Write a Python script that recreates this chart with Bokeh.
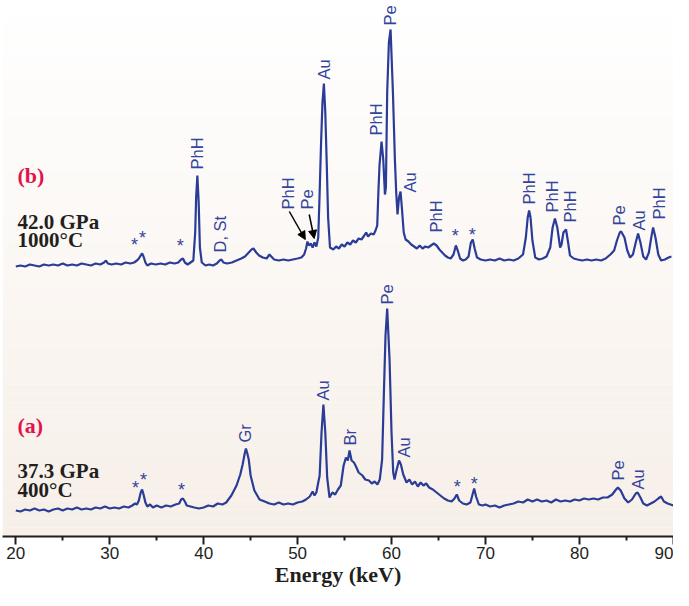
import numpy as np
from bokeh.plotting import figure
from bokeh.models import FixedTicker, Label, Arrow, NormalHead
from bokeh.core.properties import value
from bokeh.embed import file_html
from bokeh.resources import INLINE

# ---------------- data ----------------
energy_a = [20.0, 20.5, 21.0, 21.5, 22.0, 22.5, 23.0, 23.5, 24.0, 24.5, 25.0, 25.5, 26.0, 26.5, 27.0,
            27.5, 28.0, 28.5, 29.0, 29.5, 30.0, 30.5, 31.0, 31.5, 32.0, 32.4, 32.7, 32.9, 33.1, 33.3,
            33.45, 33.6, 33.8, 34.0, 34.3, 34.6, 35.0, 35.5, 36.0, 36.5, 37.0, 37.4, 37.6, 37.8, 38.0,
            38.2, 38.6, 39.0, 39.5, 40.0, 40.5, 41.0, 41.5, 42.0, 42.4, 42.95, 43.5, 43.9, 44.15, 44.35,
            44.5, 44.65, 44.8, 45.0, 45.4, 45.95, 46.5, 47.0, 47.5, 48.0, 48.5, 49.0, 49.5, 50.0, 50.5,
            50.9, 51.3, 51.6, 51.8, 52.0, 52.2, 52.35, 52.55, 52.75, 52.95, 53.15, 53.4, 53.7, 54.0, 54.3,
            54.6, 54.9, 55.15, 55.35, 55.53, 55.75, 56.0, 56.17, 56.5, 56.9, 57.2, 57.6, 57.9, 58.2, 58.5,
            58.75, 59.0, 59.19, 59.36, 59.54, 59.79, 60.0, 60.18, 60.32, 60.5, 60.8, 61.0, 61.25, 61.6, 61.9,
            62.2, 62.5, 62.8, 63.1, 63.4, 63.7, 64.0, 64.4, 64.8, 65.2, 65.6, 66.0, 66.4, 66.7, 66.95,
            67.2, 67.6, 68.0, 68.4, 68.6, 68.8, 69.0, 69.3, 69.7, 70.0, 70.5, 71.0, 71.5, 72.0, 72.5,
            73.0, 73.5, 74.0, 74.5, 75.0, 75.5, 76.0, 76.5, 77.0, 77.5, 78.0, 78.5, 79.0, 79.5, 80.0,
            80.5, 81.0, 81.5, 82.0, 82.5, 83.0, 83.5, 83.9, 84.1, 84.4, 84.8, 85.2, 85.6, 86.0, 86.2,
            86.5, 86.8, 87.2, 87.6, 88.0, 88.4, 88.7, 89.0, 89.4, 89.7, 90.0]
counts_a = [0, -1, 1, 0, 2, 0, 1, -1, 1, 2, 0, 2, 1, 3, 1,
            2, 1, 3, 2, 4, 2, 3, 2, 4, 3, 5, 7, 6, 10, 18,
            21, 16, 8, 4, 6, 3, 5, 3, 5, 4, 6, 7, 11, 12, 9,
            5, 4, 3, 2, 3, 5, 4, 7, 6, 8, 15, 25, 36, 46, 56,
            62, 57, 51, 35, 20, 11, 9, 7, 6, 8, 6, 7, 6, 8, 9,
            11, 14, 19, 15, 18, 28, 35, 78, 106, 78, 33, 13, 18, 16, 21,
            25, 45, 53, 50, 60, 50, 48, 45, 38, 35, 31, 30, 27, 29, 26,
            31, 51, 118, 175, 202, 151, 78, 38, 31, 39, 50, 46, 36, 28, 31,
            26, 29, 24, 28, 25, 27, 23, 21, 18, 15, 12, 10, 9, 12, 16,
            10, 7, 6, 8, 15, 22, 14, 6, 5, 6, 4, 5, 3, 5, 6,
            7, 9, 8, 11, 9, 11, 9, 10, 8, 11, 9, 10, 9, 11, 10,
            12, 11, 12, 11, 13, 13, 16, 21, 23, 20, 12, 8, 11, 17, 18,
            13, 7, 5, 7, 9, 12, 14, 9, 7, 6, 5]

energy_b = [20.0, 20.5, 21.0, 21.5, 22.0, 22.5, 23.0, 23.5, 24.0, 24.5, 25.0, 25.5, 26.0, 26.5, 27.0,
            27.5, 28.0, 28.5, 29.0, 29.4, 29.6, 29.8, 30.2, 30.7, 31.2, 31.7, 32.2, 32.6, 32.9, 33.1,
            33.3, 33.45, 33.6, 33.8, 34.0, 34.4, 34.9, 35.4, 35.9, 36.4, 36.9, 37.3, 37.6, 37.8, 38.0,
            38.3, 38.6, 38.9, 39.1, 39.2, 39.33, 39.47, 39.6, 39.8, 40.2, 40.6, 41.0, 41.4, 41.7, 41.9,
            42.1, 42.5, 43.0, 43.5, 44.0, 44.4, 44.8, 45.1, 45.3, 45.6, 45.9, 46.3, 46.7, 47.0, 47.2,
            47.5, 48.0, 48.5, 49.0, 49.5, 50.0, 50.4, 50.7, 50.9, 51.05, 51.2, 51.4, 51.6, 51.8, 52.0,
            52.2, 52.35, 52.5, 52.65, 52.8, 52.95, 53.1, 53.25, 53.45, 53.8, 54.1, 54.4, 54.7, 55.0, 55.3,
            55.6, 55.9, 56.2, 56.5, 56.8, 57.1, 57.3, 57.5, 57.8, 58.1, 58.3, 58.48, 58.6, 58.72, 58.94,
            59.12, 59.3, 59.4, 59.54, 59.72, 59.9, 60.15, 60.36, 60.5, 60.64, 60.8, 60.96, 61.1, 61.3, 61.5,
            61.8, 62.1, 62.4, 62.7, 63.0, 63.3, 63.6, 63.9, 64.2, 64.5, 64.8, 65.1, 65.4, 65.7, 66.0,
            66.3, 66.6, 66.85, 67.05, 67.3, 67.6, 67.9, 68.2, 68.45, 68.65, 68.85, 69.1, 69.5, 70.0, 70.5,
            71.0, 71.5, 72.0, 72.5, 73.0, 73.5, 74.0, 74.3, 74.5, 74.65, 74.8, 75.0, 75.3, 75.7, 76.1,
            76.5, 76.9, 77.15, 77.4, 77.65, 77.95, 78.1, 78.3, 78.58, 78.8, 79.0, 79.4, 79.8, 80.3, 80.8,
            81.3, 81.8, 82.3, 82.8, 83.3, 83.7, 84.0, 84.3, 84.45, 84.8, 85.1, 85.4, 85.7, 86.0, 86.25,
            86.5, 86.8, 87.1, 87.4, 87.65, 87.85, 88.1, 88.4, 88.7, 89.1, 89.5, 89.8]
counts_b = [-1, 0, -1, 1, 0, -1, 1, 0, 1, 0, 2, 0, 1, 0, 2,
            1, 0, 2, 1, 3, 5, 2, 1, 2, 1, 3, 2, 3, 5, 7,
            10, 12, 9, 3, 0, 2, 1, 2, 1, 3, 2, 3, 6, 7, 3,
            1, 3, 5, 33, 68, 90, 63, 18, 3, 0, 1, 0, 2, 5, 6,
            3, 2, 3, 5, 7, 9, 13, 16, 17, 13, 10, 8, 7, 11, 9,
            6, 5, 6, 5, 6, 7, 8, 11, 17, 24, 20, 22, 18, 23, 19,
            28, 73, 123, 163, 182, 153, 103, 48, 18, 16, 19, 17, 21, 19, 23,
            21, 25, 23, 27, 26, 30, 33, 29, 32, 31, 35, 40, 73, 100, 124,
            106, 71, 78, 173, 223, 236, 173, 106, 73, 51, 68, 74, 58, 33, 26,
            24, 21, 19, 17, 20, 17, 19, 18, 20, 22, 20, 16, 13, 10, 8,
            7, 11, 20, 15, 7, 5, 6, 9, 23, 26, 17, 8, 6, 5, 6,
            5, 7, 5, 6, 5, 7, 11, 28, 48, 55, 48, 25, 8, 6, 7,
            9, 18, 38, 47, 38, 18, 21, 33, 36, 23, 10, 7, 6, 5, 6,
            5, 6, 5, 7, 11, 15, 25, 33, 34, 28, 15, 8, 11, 23, 32,
            23, 9, 6, 13, 28, 38, 28, 11, 5, 6, 8, 9]

offset_a = 30
offset_b = 275

# peak annotations: label, energy, height of label start above the spectrum baseline
peaks_a_text = ["Gr", "Au", "Br", "Pe", "Au", "Pe", "Au"]
peaks_a_x = [44.44, 52.73, 55.61, 59.54, 61.35, 84.12, 86.25]
peaks_a_h = [68, 110, 65, 206, 53, 30, 21]

peaks_b_text = ["PhH", "D, St", "PhH", "Pe", "Au", "PhH", "Pe", "Au", "PhH",
                "PhH", "PhH", "PhH", "Pe", "Au", "PhH"]
peaks_b_x = [39.33, 41.78, 49.01, 51.03, 52.84, 58.37, 59.86, 61.99, 64.75,
             74.65, 77.1, 79.01, 84.24, 86.37, 88.48]
peaks_b_h = [96, 13, 56, 56, 186, 130, 240, 73, 33, 61, 53, 43, 40, 35, 46]

stars_a_x = [32.74, 33.59, 37.63, 66.99, 68.8]
stars_a_h = [23, 31, 21, 24, 27]
stars_b_x = [32.64, 33.48, 37.52, 66.78, 68.59]
stars_b_h = [21, 28, 20, 30, 31]

x_ticks = [20, 30, 40, 50, 60, 70, 80, 90]
x_minor = [25, 35, 45, 55, 65, 75, 85]

# ---------------- styles ----------------
LINE = "#2a3c97"
LBL = "#33449c"
DARK = "#231f20"
RED = "#e2134a"
SANS = "Liberation Sans"
SERIF = "Liberation Serif"

X0, X1 = 18.585, 90.02
Y0, Y1 = 4, 540

p = figure(width=673, height=590, x_range=(X0, X1), y_range=(Y0, Y1),
           output_backend="svg", toolbar_location=None, y_axis_location=None,
           min_border_left=2, min_border_right=0, min_border_top=0, min_border_bottom=54)
p.grid.visible = False
p.outline_line_color = None
p.border_fill_color = "white"
p.background_fill_color = "white"

# vertical gradient background (white top -> warm beige bottom)
nb = 60
edges = np.linspace(Y0, Y1, nb + 1)
top_c = np.array([255, 255, 255])
bot_c = np.array([247, 239, 232])
cols = []
for i in range(nb):
    t = ((edges[i] + edges[i + 1]) / 2 - Y0) / (Y1 - Y0)  # 0 at bottom, 1 at top
    c = bot_c + (top_c - bot_c) * t
    cols.append("#%02x%02x%02x" % tuple(int(round(v)) for v in c))
p.quad(left=X0, right=X1, bottom=edges[:-1], top=edges[1:], fill_color=cols, line_color=None)

# spectra
p.line(energy_a, [v + offset_a for v in counts_a], line_color=LINE, line_width=2.2)
p.line(energy_b, [v + offset_b for v in counts_b], line_color=LINE, line_width=2.2)

# peak labels (rotated)
for xs, hs, txt, off in [(peaks_a_x, peaks_a_h, peaks_a_text, offset_a),
                         (peaks_b_x, peaks_b_h, peaks_b_text, offset_b)]:
    p.text(x=xs, y=[h + off for h in hs], text=txt, angle=np.pi / 2,
           text_align="left", text_baseline="middle", text_color=LBL,
           text_font=value(SANS), text_font_size="16.5px")

for xs, hs, off in [(stars_a_x, stars_a_h, offset_a), (stars_b_x, stars_b_h, offset_b)]:
    p.text(x=xs, y=[h + off for h in hs], text=["*"] * len(xs),
           text_align="center", text_baseline="middle", text_color=LBL,
           text_font=value(SANS), text_font_size="18px")

# arrows
for xs, ys, xe, ye in [(49.12, 329, 50.82, 301), (51.24, 326, 51.77, 302)]:
    p.add_layout(Arrow(end=NormalHead(size=8, fill_color="black", line_color="black"),
                       x_start=xs, y_start=ys, x_end=xe, y_end=ye,
                       line_color="black", line_width=1.5))

# left-side panel labels
for txt, yy, col, size in [("(b)", 365, RED, "22px"), ("42.0 GPa", 319, DARK, "21px"),
                           ("1000°C", 301, DARK, "21px"), ("(a)", 115, RED, "22px"),
                           ("37.3 GPa", 70, DARK, "21px"), ("400°C", 51, DARK, "21px")]:
    p.add_layout(Label(x=20.18, y=yy, text=txt, text_color=col, text_font=SERIF,
                       text_font_style="bold", text_font_size=size,
                       text_align="left", text_baseline="alphabetic"))

# x axis
ax = p.xaxis[0]
ax.ticker = FixedTicker(ticks=x_ticks, minor_ticks=x_minor)
ax.axis_line_width = 2
ax.axis_line_color = DARK
ax.major_tick_line_color = DARK
ax.major_tick_line_width = 2
ax.major_tick_out = 8
ax.major_tick_in = 0
ax.minor_tick_line_color = DARK
ax.minor_tick_line_width = 2
ax.minor_tick_out = 4
ax.minor_tick_in = 0
ax.major_label_text_font = SANS
ax.major_label_text_font_size = "17px"
ax.major_label_text_color = DARK
ax.major_label_standoff = 2
ax.axis_label = "Energy (keV)"
ax.axis_label_text_font = SERIF
ax.axis_label_text_font_style = "bold"
ax.axis_label_text_font_size = "22px"
ax.axis_label_text_color = DARK
ax.axis_label_standoff = 0

open("out.html", "w").write(file_html(p, INLINE))
